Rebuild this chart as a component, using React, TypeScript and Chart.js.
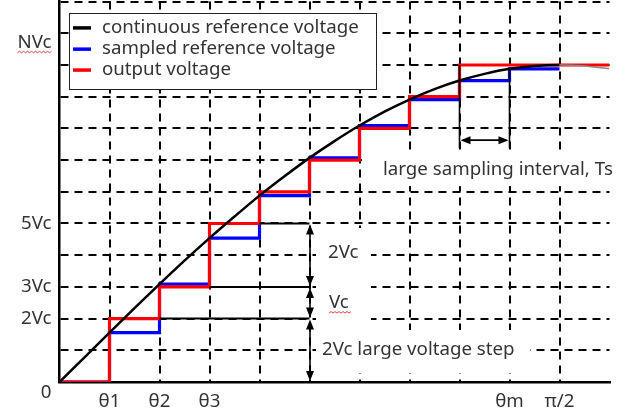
import React, { useEffect, useRef } from "react";
import { Chart, registerables } from "chart.js";

Chart.register(...registerables);

// ---- data ----
const xTicks = [0, 1, 2, 3, 4, 5, 6, 7, 8, 9, 10, 11];
const xTickLabels = ["", "θ1", "θ2", "θ3", "", "", "", "", "", "θm", "π/2", ""];
const yTicks = [0, 1, 2, 3, 4, 5, 6, 7, 8, 9, 10, 11, 12];
const yTickLabels = ["", "", "2Vc", "3Vc", "", "5Vc", "", "", "", "", "", "", ""];

const curveTheta = [0, 0.5, 1, 1.5, 2, 2.5, 3, 3.5, 4, 4.5, 5, 5.5, 6, 6.5, 7, 7.5, 8, 8.5, 9, 9.5, 10, 10.5, 11];
const continuousRef = [0, 0.78, 1.56, 2.33, 3.09, 3.83, 4.54, 5.22, 5.88, 6.49, 7.07, 7.6, 8.09, 8.53, 8.91, 9.24, 9.51, 9.72, 9.88, 9.97, 10.0, 9.97, 9.88];

const sampleTheta = [0, 1, 2, 3, 4, 5, 6, 7, 8, 9, 10];
const sampledRef = [0, 1.56, 3.09, 4.54, 5.88, 7.07, 8.09, 8.91, 9.51, 9.88, 9.88];

const outputTheta = [0, 1, 2, 3, 4, 5, 6, 7, 8, 11];
const outputVoltage = [0, 2, 3, 5, 6, 7, 8, 9, 10, 10];

const legendLabels = ["continuous reference voltage", "sampled reference voltage", "output voltage"];
const legendColors = ["#000000", "#0000ff", "#ff0000"];

const FONT = '"Noto Sans", "Open Sans", sans-serif';
const FSIZE = 18.7;
const TEXT = "#333333";

function arrowHead(ctx: CanvasRenderingContext2D, x: number, y: number, dir: string) {
  const L = 10, W = 4;
  ctx.beginPath();
  if (dir === "up") { ctx.moveTo(x, y); ctx.lineTo(x - W, y + L); ctx.lineTo(x + W, y + L); }
  else if (dir === "down") { ctx.moveTo(x, y); ctx.lineTo(x - W, y - L); ctx.lineTo(x + W, y - L); }
  else if (dir === "left") { ctx.moveTo(x, y); ctx.lineTo(x + L, y - W); ctx.lineTo(x + L, y + W); }
  else { ctx.moveTo(x, y); ctx.lineTo(x - L, y - W); ctx.lineTo(x - L, y + W); }
  ctx.closePath();
  ctx.fill();
}

function squiggle(ctx: CanvasRenderingContext2D, x0: number, x1: number, y: number) {
  ctx.save();
  ctx.strokeStyle = "#e04040";
  ctx.lineWidth = 1;
  ctx.beginPath();
  ctx.moveTo(x0, y);
  let up = true;
  for (let x = x0 + 2; x <= x1; x += 2) {
    ctx.lineTo(x, up ? y - 1.5 : y);
    up = !up;
  }
  ctx.stroke();
  ctx.restore();
}

const overlayPlugin = {
  id: "overlay",
  afterDatasetsDraw(chart: any) {
    const ctx: CanvasRenderingContext2D = chart.ctx;
    const xs = chart.scales.x;
    const ys = chart.scales.y;
    const px = (v: number) => xs.getPixelForValue(v);
    const py = (v: number) => ys.getPixelForValue(v);
    ctx.save();

    const whiteBox = (x0: number, y0: number, x1: number, y1: number) => {
      ctx.fillStyle = "#ffffff";
      ctx.fillRect(px(x0), py(y0), px(x1) - px(x0), py(y1) - py(y0));
    };
    // label backgrounds
    whiteBox(6.05, 7.32, 11.4, 6.18);
    whiteBox(5.13, 4.86, 6.23, 1.64);
    whiteBox(5.13, 1.64, 9.41, 0.28);

    ctx.strokeStyle = "#000";
    ctx.fillStyle = "#000";
    // horizontal solid reference levels
    ctx.lineWidth = 2;
    const levels = [[2, 2], [3, 3], [5, 4]];
    for (const [lv, x0] of levels) {
      ctx.beginPath();
      ctx.moveTo(px(x0), py(lv));
      ctx.lineTo(px(5), py(lv));
      ctx.stroke();
    }
    // vertical double arrows at theta = 5
    ctx.lineWidth = 1.6;
    const segs = [[5, 3], [3, 2], [2, 0]];
    const ax = px(5) + 0.5;
    for (const [a, b] of segs) {
      ctx.beginPath();
      ctx.moveTo(ax, py(a) + 4);
      ctx.lineTo(ax, py(b) - 4);
      ctx.stroke();
      arrowHead(ctx, ax, py(a) + 1, "up");
      arrowHead(ctx, ax, py(b) - 1, "down");
    }
    // Ts marker
    ctx.lineWidth = 1.6;
    ctx.beginPath();
    ctx.moveTo(px(8), py(10));
    ctx.lineTo(px(8), py(7.38));
    ctx.moveTo(px(9), py(9.88));
    ctx.lineTo(px(9), py(7.38));
    ctx.stroke();
    const ty = py(7.63);
    ctx.beginPath();
    ctx.moveTo(px(8) + 4, ty);
    ctx.lineTo(px(9) - 4, ty);
    ctx.stroke();
    arrowHead(ctx, px(8) + 1, ty, "left");
    arrowHead(ctx, px(9) - 1, ty, "right");

    // texts
    ctx.font = FSIZE + "px " + FONT;
    ctx.fillStyle = TEXT;
    ctx.textBaseline = "middle";
    ctx.textAlign = "left";
    ctx.fillText("large sampling interval, Ts", px(6.47), py(6.69));
    ctx.fillText("2Vc", px(5.37), py(4.07));
    ctx.fillText("Vc", px(5.39), py(2.49));
    ctx.fillText("2Vc large voltage step", px(5.25), py(1.01));
    squiggle(ctx, px(5.39), px(5.39) + 22, py(2.49) + 10);

    // y-axis extra labels
    ctx.textAlign = "right";
    ctx.fillText("NVc", px(0) - 8, py(10.7));
    const nvw = ctx.measureText("NVc").width;
    squiggle(ctx, px(0) - 8 - nvw, px(0) - 8, py(10.7) + 10);
    ctx.fillText("0", px(0) - 8, py(-0.35));

    // legend
    const lx0 = px(0.19), lx1 = px(6.33), ly0 = py(11.64), ly1 = py(9.24);
    ctx.fillStyle = "#ffffff";
    ctx.fillRect(lx0, ly0, lx1 - lx0, ly1 - ly0);
    ctx.strokeStyle = "#222";
    ctx.lineWidth = 1;
    ctx.strokeRect(Math.round(lx0) + 0.5, Math.round(ly0) + 0.5, Math.round(lx1 - lx0), Math.round(ly1 - ly0));
    const rows = [11.17, 10.5, 9.84];
    ctx.textAlign = "left";
    legendLabels.forEach((lab, i) => {
      const y = py(rows[i]);
      ctx.strokeStyle = legendColors[i];
      ctx.lineWidth = 3.5;
      ctx.beginPath();
      ctx.moveTo(px(0.27), y);
      ctx.lineTo(px(0.63), y);
      ctx.stroke();
      ctx.fillStyle = TEXT;
      ctx.fillText(lab, px(0.85), y);
    });

    ctx.restore();
  },
};

export default function App() {
  const ref = useRef<HTMLCanvasElement | null>(null);
  useEffect(() => {
    if (!ref.current) return;
    const gridColor = (hidden: number[]) => (c: any) =>
      c.tick && hidden.includes(c.tick.value) ? "rgba(0,0,0,0)" : "#000";
    const chart = new Chart(ref.current, {
      type: "line",
      data: {
        datasets: [
          {
            label: legendLabels[0],
            data: curveTheta.map((x, i) => ({ x, y: continuousRef[i] })),
            borderColor: "#000",
            borderWidth: 2.5,
            pointRadius: 0,
            cubicInterpolationMode: "monotone",
            segment: {
              borderColor: (c: any) => (c.p0.parsed.x >= 10 ? "#888" : undefined),
              borderWidth: (c: any) => (c.p0.parsed.x >= 10 ? 1.5 : undefined),
            },
          } as any,
          {
            label: legendLabels[2],
            data: outputTheta.map((x, i) => ({ x, y: outputVoltage[i] })),
            borderColor: "#ff0000",
            borderWidth: 3.2,
            pointRadius: 0,
            stepped: true,
          },
          {
            label: legendLabels[1],
            data: sampleTheta.map((x, i) => ({ x, y: sampledRef[i] })),
            borderColor: "#0000ff",
            borderWidth: 3.2,
            pointRadius: 0,
            stepped: true,
          },
        ],
      },
      options: {
        responsive: false,
        animation: false,
        layout: { padding: { left: 0, top: 1.6, right: 18.5, bottom: 0 } },
        plugins: { legend: { display: false }, tooltip: { enabled: false } },
        scales: {
          x: {
            type: "linear",
            min: 0,
            max: 11,
            afterBuildTicks: (s: any) => { s.ticks = xTicks.map((v) => ({ value: v })); },
            afterFit: (s: any) => { s.height = 34; s.paddingLeft = 0; s.paddingRight = 0; },
            grid: { color: gridColor([0, 11]), lineWidth: 2, drawTicks: false },
            border: { display: true, color: "#000", width: 2.5, dash: [8, 6] },
            ticks: {
              autoSkip: false,
              maxRotation: 0,
              padding: 8,
              color: TEXT,
              font: { family: FONT, size: FSIZE },
              callback: (_v: any, i: number) => xTickLabels[i],
            },
          },
          y: {
            type: "linear",
            min: 0,
            max: 12,
            afterBuildTicks: (s: any) => { s.ticks = yTicks.map((v) => ({ value: v })); },
            afterFit: (s: any) => { s.width = 59.5; s.paddingTop = 0; s.paddingBottom = 0; },
            grid: { color: gridColor([0]), lineWidth: 2, drawTicks: false },
            border: { display: true, color: "#000", width: 2.5, dash: [8, 6] },
            ticks: {
              autoSkip: false,
              padding: 8,
              color: TEXT,
              font: { family: FONT, size: FSIZE },
              callback: (_v: any, i: number) => yTickLabels[i],
            },
          },
        },
      },
      plugins: [overlayPlugin],
    } as any);
    return () => chart.destroy();
  }, []);
  return (
    <div style={{ position: "absolute", left: 0, top: 0, width: 628, height: 416, background: "#fff" }}>
      <canvas ref={ref} width={628} height={416} />
    </div>
  );
}
